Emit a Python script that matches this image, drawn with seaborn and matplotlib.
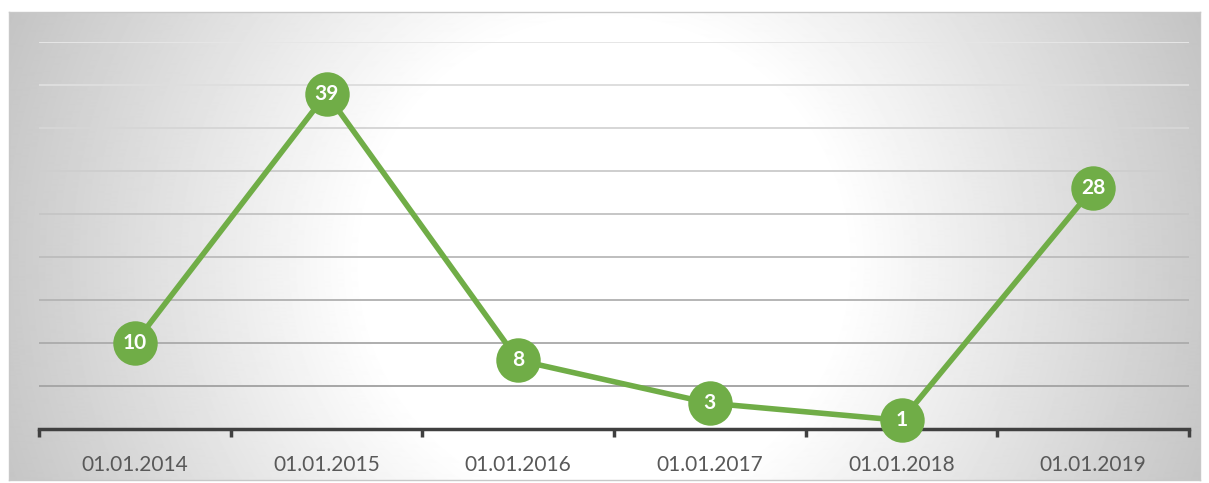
import numpy as np
import pandas as pd
import matplotlib
matplotlib.use("Agg")
import matplotlib.pyplot as plt
import seaborn as sns

# chart data
dates = ["01.01.2014", "01.01.2015", "01.01.2016", "01.01.2017", "01.01.2018", "01.01.2019"]
counts = [10, 39, 8, 3, 1, 28]

df = pd.DataFrame({"date": dates, "count": counts})
df["pos"] = range(len(df))

sns.set_style("white")
plt.rcParams["font.family"] = ["Lato", "DejaVu Sans"]

W, H = 1209, 483
fig = plt.figure(figsize=(W / 100, H / 100), dpi=100)
fig.patch.set_facecolor("white")

# chart area with a radial grey-white gradient
x0, y0, x1, y1 = 9, 12, 1200, 480
bg = fig.add_axes([x0 / W, 1 - y1 / H, (x1 - x0) / W, (y1 - y0) / H])
gw, gh = x1 - x0, y1 - y0
xx, yy = np.meshgrid(np.arange(gw), np.arange(gh))
cx, cy, r = 595, 250, 600
t = np.sqrt((xx - cx) ** 2 + (yy - cy) ** 2) / r
t = np.clip((t - 0.4) / 0.68, 0, 1)
shade = 1 - t * (60 / 255)
bg.imshow(shade, cmap="gray", vmin=0, vmax=1, aspect="auto", interpolation="bilinear")
bg.set_xticks([])
bg.set_yticks([])
for s in bg.spines.values():
    s.set_color("#c8c8c8")
    s.set_linewidth(1)

# plot area
px0, px1, py0, py1 = 39, 1189, 42, 429
ax = fig.add_axes([px0 / W, 1 - py1 / H, (px1 - px0) / W, (py1 - py0) / H])
ax.set_facecolor("none")

ymax = 45
levels = np.arange(5, ymax + 1, 5)
for lv in levels:
    g = 0.62 + 0.28 * (lv / ymax)
    ax.axhline(lv, color=(g, g, g), linewidth=1.4, zorder=1)

sns.lineplot(data=df, x="pos", y="count", ax=ax, color="#70ad47", linewidth=4,
             marker="o", markersize=32, markeredgewidth=0, zorder=5, clip_on=False)

for i, v in enumerate(counts):
    ax.text(i, v, str(v), ha="center", va="center", color="white",
            fontsize=15, fontweight="bold", zorder=6)

ax.set_xlim(-0.5, len(dates) - 0.5)
ax.set_ylim(0, ymax)
ax.set_xticks(range(len(dates)))
ax.set_xticklabels(dates)
ax.set_xticks(np.arange(-0.5, len(dates), 1), minor=True)
ax.tick_params(axis="x", which="both", bottom=True)
ax.tick_params(axis="x", which="major", length=0, pad=19, labelsize=15, labelcolor="#595959")
ax.tick_params(axis="x", which="minor", length=6, width=2.5, color="#404040", direction="out")
ax.set_yticks([])
ax.set_xlabel("")
ax.set_ylabel("")
for side in ["top", "left", "right"]:
    ax.spines[side].set_visible(False)
ax.spines["bottom"].set_color("#404040")
ax.spines["bottom"].set_linewidth(2.5)
ax.spines["bottom"].set_zorder(3)

fig.savefig("out.png", dpi=100)
